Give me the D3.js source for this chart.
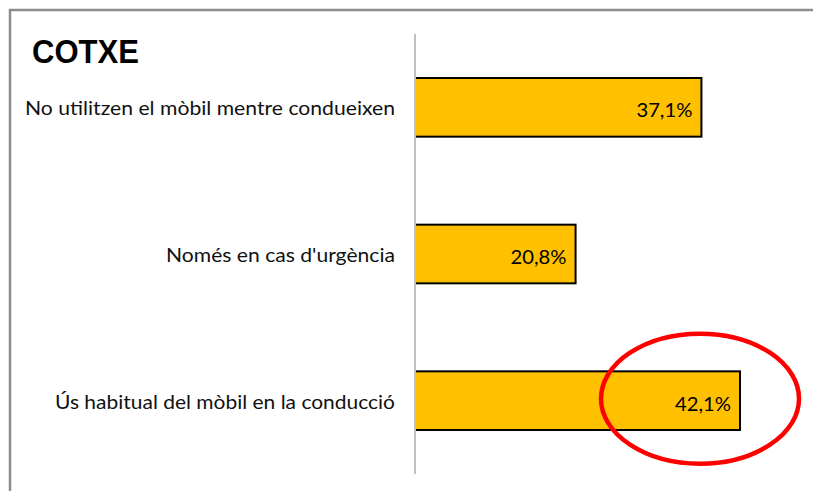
<!DOCTYPE html>
<html>
<head>
<meta charset="utf-8">
<script src="https://cdn.jsdelivr.net/npm/d3@7"></script>
<style>
  html, body { margin: 0; padding: 0; background: #fff; }
  svg { display: block; }
</style>
</head>
<body>
<div id="chart"></div>
<script>
"use strict";

// chart data
const title = "COTXE";
const categories = [
	"No utilitzen el mòbil mentre condueixen",
	"Només en cas d'urgència",
	"Ús habitual del mòbil en la conducció"
];
const values = [37.1, 20.8, 42.1];
const labelWidths = [370, 229, 340]; // measured text widths in the picture
const highlighted = 2; // bar that is circled

const W = 813, H = 491;
const axisX = 415, axisTop = 34, axisBottom = 474;

const svg = d3.select("#chart")
	.append("svg")
	.attr("width", W)
	.attr("height", H);

// frame (only top and left edges are visible)
svg.append("path")
	.attr("d", `M10,${H} L10,10 L${W},10`)
	.attr("fill", "none")
	.attr("stroke", "#8c8c8c")
	.attr("stroke-width", 2.5);

const x = d3.scaleLinear()
	.domain([0, 50])
	.range([axisX, axisX + 386]);

const y = d3.scaleBand()
	.domain(categories)
	.range([axisTop, axisBottom])
	.paddingInner(0.6)
	.paddingOuter(0.3);

// title
svg.append("text")
	.attr("x", 32)
	.attr("y", 63)
	.attr("font-family", "'Liberation Sans', Arial, sans-serif")
	.attr("font-weight", "bold")
	.attr("font-size", 34)
	.attr("textLength", 107)
	.attr("lengthAdjust", "spacingAndGlyphs")
	.attr("fill", "#000")
	.text(title);

// bars
const bars = svg.selectAll("g.bar")
	.data(values)
	.enter()
	.append("g")
	.attr("class", "bar");

bars.append("rect")
	.attr("x", x(0))
	.attr("y", (d, i) => y(categories[i]))
	.attr("width", d => x(d) - x(0))
	.attr("height", y.bandwidth())
	.attr("fill", "#ffc000")
	.attr("stroke", "#000")
	.attr("stroke-width", 2);

// value labels
bars.append("text")
	.attr("x", d => x(d) - 9)
	.attr("y", (d, i) => y(categories[i]) + y.bandwidth() / 2 + 2)
	.attr("dominant-baseline", "central")
	.attr("text-anchor", "end")
	.attr("font-family", "Lato, 'Open Sans', sans-serif")
	.attr("font-size", 20)
	.attr("textLength", 56)
	.attr("lengthAdjust", "spacingAndGlyphs")
	.attr("fill", "#000")
	.text(d => d.toFixed(1).replace(".", ",") + "%");

// category labels
svg.selectAll("text.cat")
	.data(categories)
	.enter()
	.append("text")
	.attr("class", "cat")
	.attr("x", axisX - 20)
	.attr("y", d => y(d) + y.bandwidth() / 2)
	.attr("dominant-baseline", "central")
	.attr("text-anchor", "end")
	.attr("font-family", "Lato, 'Open Sans', sans-serif")
	.attr("font-size", 20)
	.attr("textLength", (d, i) => labelWidths[i])
	.attr("lengthAdjust", "spacingAndGlyphs")
	.attr("fill", "#111")
	.text(d => d);

// vertical axis line
svg.append("line")
	.attr("x1", axisX)
	.attr("x2", axisX)
	.attr("y1", axisTop)
	.attr("y2", axisBottom)
	.attr("stroke", "#bfbfbf")
	.attr("stroke-width", 2);

// red circle round the highlighted value
const hv = values[highlighted];
const hc = categories[highlighted];
svg.append("ellipse")
	.attr("cx", x(hv) - 40)
	.attr("cy", y(hc) + y.bandwidth() / 2 - 2)
	.attr("rx", 99)
	.attr("ry", 65)
	.attr("fill", "none")
	.attr("stroke", "#ff0000")
	.attr("stroke-width", 4.5);
</script>
</body>
</html>
